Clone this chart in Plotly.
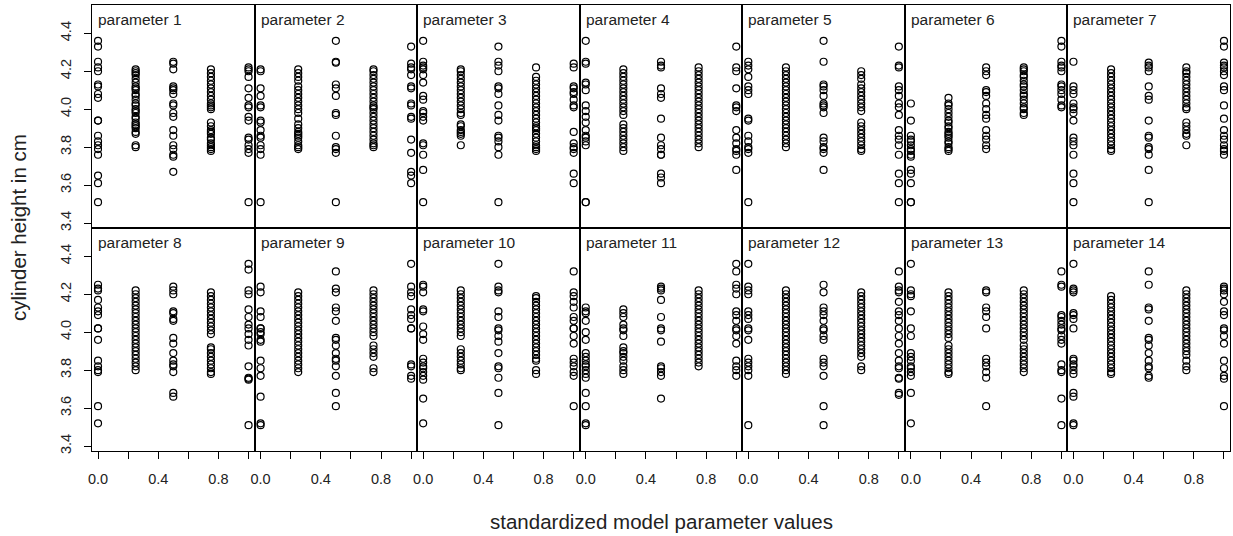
import plotly.graph_objects as go
from plotly.subplots import make_subplots

x_levels = [0.0, 0.25, 0.5, 0.75, 1.0]
panel_titles = [f"parameter {i}" for i in range(1, 15)]
y_ticks = [3.4, 3.6, 3.8, 4.0, 4.2, 4.4]
y_ticktext = ["3.4", "3.6", "3.8", "4.0", "4.2", "4.4"]
x_ticks = [0.0, 0.2, 0.4, 0.6, 0.8, 1.0]
x_ticktext = ["0.0", "", "0.4", "", "0.8", ""]

p1 = [[4.36, 4.33, 4.25, 4.22, 4.20, 4.13, 4.12, 4.08, 4.06, 3.94, 3.94, 3.86, 3.83, 3.81, 3.79, 3.76, 3.65, 3.61, 3.51],
      [4.21, 4.20, 4.19, 4.18, 4.16, 4.14, 4.12, 4.11, 4.10, 4.08, 4.07, 4.05, 4.03, 4.02, 4.00, 3.99, 3.98, 3.96, 3.95, 3.93, 3.92, 3.91, 3.90, 3.88, 3.87, 3.81, 3.80],
      [4.25, 4.24, 4.21, 4.12, 4.11, 4.10, 4.08, 4.03, 4.02, 3.98, 3.96, 3.89, 3.86, 3.81, 3.79, 3.76, 3.75, 3.67],
      [4.21, 4.19, 4.17, 4.15, 4.13, 4.11, 4.09, 4.07, 4.05, 4.03, 4.02, 4.01, 4.00, 3.93, 3.91, 3.89, 3.88, 3.87, 3.85, 3.84, 3.82, 3.81, 3.80, 3.79, 3.78],
      [4.22, 4.21, 4.20, 4.17, 4.11, 4.06, 4.02, 4.01, 3.96, 3.94, 3.85, 3.84, 3.81, 3.79, 3.77, 3.51]]
p2 = [[4.21, 4.20, 4.11, 4.07, 4.02, 4.01, 3.94, 3.93, 3.89, 3.86, 3.85, 3.81, 3.79, 3.76, 3.51],
      [4.21, 4.19, 4.17, 4.15, 4.12, 4.10, 4.08, 4.06, 4.04, 4.02, 4.00, 3.98, 3.95, 3.92, 3.90, 3.88, 3.87, 3.86, 3.85, 3.83, 3.81, 3.80, 3.79],
      [4.36, 4.25, 4.245, 4.13, 4.11, 4.07, 3.98, 3.97, 3.86, 3.80, 3.79, 3.77, 3.51],
      [4.21, 4.20, 4.18, 4.16, 4.14, 4.12, 4.10, 4.08, 4.06, 4.04, 4.02, 4.01, 4.00, 3.98, 3.96, 3.94, 3.92, 3.90, 3.88, 3.86, 3.84, 3.82, 3.81, 3.80],
      [4.33, 4.24, 4.22, 4.21, 4.18, 4.12, 4.11, 4.03, 4.02, 3.96, 3.95, 3.84, 3.77, 3.67, 3.65, 3.61]]
p3 = [[4.36, 4.25, 4.23, 4.22, 4.21, 4.18, 4.14, 4.07, 4.05, 3.99, 3.98, 3.96, 3.94, 3.82, 3.81, 3.76, 3.68, 3.51],
      [4.21, 4.20, 4.18, 4.16, 4.14, 4.12, 4.10, 4.08, 4.06, 4.04, 4.02, 4.00, 3.98, 3.97, 3.92, 3.91, 3.89, 3.88, 3.87, 3.86, 3.81],
      [4.33, 4.25, 4.23, 4.20, 4.12, 4.11, 4.08, 4.02, 3.97, 3.94, 3.86, 3.85, 3.83, 3.80, 3.76, 3.51],
      [4.22, 4.17, 4.15, 4.13, 4.11, 4.09, 4.07, 4.05, 4.03, 4.01, 3.99, 3.97, 3.95, 3.93, 3.91, 3.90, 3.89, 3.87, 3.85, 3.83, 3.81, 3.80, 3.79, 3.78],
      [4.24, 4.22, 4.12, 4.11, 4.09, 4.08, 4.05, 4.02, 4.01, 3.88, 3.82, 3.80, 3.79, 3.77, 3.66, 3.61]]
p4 = [[4.36, 4.25, 4.24, 4.14, 4.13, 4.10, 4.02, 3.99, 3.96, 3.93, 3.89, 3.86, 3.85, 3.83, 3.81, 3.51, 3.51],
      [4.21, 4.19, 4.17, 4.15, 4.13, 4.11, 4.09, 4.07, 4.05, 4.03, 4.01, 3.99, 3.97, 3.92, 3.90, 3.88, 3.86, 3.84, 3.82, 3.80, 3.78],
      [4.25, 4.23, 4.22, 4.11, 4.08, 4.06, 3.95, 3.85, 3.81, 3.79, 3.76, 3.76, 3.66, 3.64, 3.61],
      [4.22, 4.20, 4.18, 4.16, 4.14, 4.12, 4.10, 4.08, 4.06, 4.04, 4.02, 4.00, 3.98, 3.96, 3.94, 3.92, 3.90, 3.88, 3.86, 3.84, 3.82, 3.80],
      [4.33, 4.22, 4.20, 4.11, 4.02, 4.01, 3.99, 3.89, 3.85, 3.82, 3.79, 3.78, 3.76, 3.68]]
p5 = [[4.25, 4.23, 4.21, 4.17, 4.12, 4.10, 4.08, 3.95, 3.94, 3.86, 3.83, 3.80, 3.79, 3.77, 3.51],
      [4.22, 4.20, 4.18, 4.16, 4.14, 4.12, 4.10, 4.08, 4.06, 4.04, 4.02, 4.00, 3.98, 3.96, 3.94, 3.92, 3.90, 3.88, 3.86, 3.84, 3.82, 3.80],
      [4.36, 4.25, 4.13, 4.12, 4.10, 4.07, 4.03, 4.02, 4.01, 3.98, 3.85, 3.83, 3.80, 3.79, 3.77, 3.68],
      [4.20, 4.18, 4.16, 4.13, 4.11, 4.09, 4.07, 4.05, 4.03, 4.01, 3.99, 3.93, 3.91, 3.89, 3.87, 3.85, 3.83, 3.81, 3.79, 3.78],
      [4.33, 4.23, 4.22, 4.12, 4.10, 4.07, 4.03, 4.01, 3.97, 3.89, 3.86, 3.84, 3.81, 3.76, 3.66, 3.61, 3.51]]
p6 = [[4.03, 3.94, 3.86, 3.84, 3.83, 3.81, 3.79, 3.78, 3.76, 3.75, 3.68, 3.66, 3.61, 3.51, 3.51],
      [4.06, 4.03, 4.02, 4.00, 3.98, 3.96, 3.94, 3.93, 3.91, 3.90, 3.88, 3.87, 3.86, 3.85, 3.83, 3.82, 3.80, 3.79, 3.78],
      [4.22, 4.20, 4.18, 4.10, 4.09, 4.07, 4.03, 4.00, 3.97, 3.95, 3.89, 3.86, 3.84, 3.81, 3.79],
      [4.22, 4.21, 4.20, 4.18, 4.17, 4.15, 4.13, 4.12, 4.10, 4.08, 4.07, 4.05, 4.03, 4.01, 4.00, 3.98, 3.97],
      [4.36, 4.33, 4.25, 4.23, 4.22, 4.20, 4.13, 4.12, 4.10, 4.08, 4.05, 4.02, 4.01]]
p7 = [[4.25, 4.12, 4.10, 4.08, 4.03, 4.01, 4.00, 3.98, 3.94, 3.85, 3.83, 3.81, 3.76, 3.66, 3.61, 3.51],
      [4.21, 4.19, 4.17, 4.15, 4.13, 4.11, 4.09, 4.07, 4.05, 4.03, 4.01, 3.99, 3.97, 3.95, 3.93, 3.91, 3.89, 3.87, 3.85, 3.83, 3.81, 3.79, 3.78],
      [4.245, 4.23, 4.22, 4.20, 4.12, 4.07, 4.05, 3.94, 3.86, 3.85, 3.80, 3.79, 3.76, 3.68, 3.51],
      [4.22, 4.20, 4.19, 4.17, 4.15, 4.13, 4.11, 4.09, 4.07, 4.05, 4.03, 4.01, 4.00, 3.93, 3.91, 3.89, 3.87, 3.86, 3.81],
      [4.36, 4.33, 4.245, 4.23, 4.22, 4.20, 4.18, 4.12, 4.10, 4.02, 3.95, 3.89, 3.86, 3.84, 3.81, 3.79, 3.78, 3.76]]
p8 = [[4.25, 4.23, 4.22, 4.17, 4.13, 4.11, 4.09, 4.02, 4.02, 3.96, 3.85, 3.82, 3.80, 3.79, 3.61, 3.52],
      [4.22, 4.20, 4.18, 4.16, 4.14, 4.12, 4.10, 4.08, 4.06, 4.04, 4.02, 4.00, 3.98, 3.96, 3.94, 3.92, 3.90, 3.88, 3.86, 3.84, 3.82, 3.80],
      [4.24, 4.22, 4.20, 4.11, 4.10, 4.07, 4.06, 3.97, 3.94, 3.89, 3.85, 3.83, 3.82, 3.79, 3.68, 3.66],
      [4.21, 4.19, 4.17, 4.15, 4.13, 4.11, 4.09, 4.07, 4.05, 4.03, 4.01, 3.99, 3.92, 3.91, 3.89, 3.87, 3.85, 3.83, 3.81, 3.79, 3.78],
      [4.36, 4.33, 4.22, 4.20, 4.12, 4.08, 4.04, 4.02, 3.99, 3.96, 3.93, 3.82, 3.76, 3.755, 3.75, 3.51]]
p9 = [[4.24, 4.21, 4.11, 4.08, 4.02, 4.02, 4.00, 3.99, 3.96, 3.95, 3.85, 3.81, 3.77, 3.66, 3.52, 3.51],
      [4.21, 4.19, 4.17, 4.15, 4.13, 4.11, 4.09, 4.07, 4.05, 4.03, 4.01, 3.99, 3.97, 3.95, 3.93, 3.91, 3.89, 3.87, 3.85, 3.83, 3.81, 3.79],
      [4.32, 4.23, 4.21, 4.13, 4.11, 4.06, 3.97, 3.96, 3.93, 3.89, 3.86, 3.85, 3.82, 3.77, 3.68, 3.61],
      [4.22, 4.20, 4.18, 4.16, 4.14, 4.12, 4.10, 4.08, 4.06, 4.04, 4.02, 4.00, 3.98, 3.93, 3.91, 3.89, 3.87, 3.81, 3.79],
      [4.36, 4.24, 4.21, 4.19, 4.12, 4.09, 4.07, 4.02, 4.02, 3.83, 3.82, 3.77, 3.755]]
p10 = [[4.25, 4.24, 4.21, 4.12, 4.11, 4.03, 3.99, 3.96, 3.86, 3.84, 3.82, 3.81, 3.79, 3.77, 3.75, 3.65, 3.52],
       [4.22, 4.20, 4.18, 4.16, 4.14, 4.12, 4.10, 4.08, 4.06, 4.04, 4.02, 4.00, 3.98, 3.91, 3.89, 3.87, 3.85, 3.83, 3.81, 3.80],
       [4.36, 4.24, 4.22, 4.21, 4.11, 4.08, 4.02, 4.01, 3.98, 3.95, 3.89, 3.82, 3.81, 3.76, 3.68, 3.51],
       [4.19, 4.18, 4.16, 4.14, 4.12, 4.10, 4.08, 4.06, 4.04, 4.02, 4.00, 3.98, 3.96, 3.94, 3.92, 3.90, 3.88, 3.86, 3.85, 3.80, 3.78],
       [4.32, 4.21, 4.19, 4.16, 4.13, 4.08, 4.06, 4.02, 4.02, 3.98, 3.94, 3.86, 3.84, 3.82, 3.79, 3.77, 3.61]]
p11 = [[4.13, 4.11, 4.10, 4.06, 4.00, 3.96, 3.89, 3.87, 3.85, 3.83, 3.82, 3.80, 3.78, 3.76, 3.68, 3.61, 3.52, 3.51],
       [4.12, 4.10, 4.08, 4.04, 4.02, 4.01, 3.98, 3.92, 3.90, 3.89, 3.87, 3.85, 3.82, 3.80, 3.78],
       [4.24, 4.23, 4.22, 4.17, 4.08, 4.02, 4.01, 3.95, 3.82, 3.81, 3.79, 3.77, 3.65],
       [4.22, 4.20, 4.18, 4.16, 4.14, 4.12, 4.10, 4.08, 4.06, 4.04, 4.02, 4.00, 3.98, 3.96, 3.94, 3.92, 3.90, 3.88, 3.86, 3.84, 3.82],
       [4.36, 4.32, 4.25, 4.23, 4.20, 4.11, 4.09, 4.06, 4.02, 4.01, 3.98, 3.94, 3.85, 3.82, 3.80, 3.77]]
p12 = [[4.36, 4.24, 4.22, 4.20, 4.11, 4.09, 4.07, 4.02, 4.01, 3.96, 3.86, 3.84, 3.82, 3.80, 3.77, 3.51],
       [4.22, 4.20, 4.18, 4.16, 4.14, 4.12, 4.10, 4.08, 4.06, 4.04, 4.02, 4.00, 3.98, 3.96, 3.94, 3.92, 3.90, 3.88, 3.86, 3.84, 3.82, 3.80, 3.78],
       [4.25, 4.21, 4.13, 4.11, 4.09, 4.06, 4.02, 4.01, 3.98, 3.96, 3.86, 3.84, 3.82, 3.77, 3.61, 3.51],
       [4.21, 4.19, 4.17, 4.15, 4.13, 4.11, 4.09, 4.07, 4.05, 4.03, 4.01, 3.99, 3.97, 3.95, 3.93, 3.91, 3.89, 3.87, 3.82, 3.80],
       [4.32, 4.24, 4.22, 4.21, 4.16, 4.11, 4.09, 4.06, 4.02, 3.98, 3.94, 3.89, 3.85, 3.82, 3.81, 3.76, 3.755, 3.68, 3.67]]
p13 = [[4.36, 4.22, 4.20, 4.19, 4.11, 4.02, 3.98, 3.89, 3.87, 3.85, 3.82, 3.81, 3.79, 3.77, 3.68, 3.52],
       [4.21, 4.19, 4.17, 4.15, 4.13, 4.11, 4.09, 4.07, 4.05, 4.03, 4.01, 3.99, 3.97, 3.93, 3.91, 3.89, 3.87, 3.85, 3.83, 3.81, 3.79, 3.78],
       [4.22, 4.21, 4.13, 4.11, 4.08, 4.02, 3.86, 3.84, 3.82, 3.79, 3.76, 3.61],
       [4.22, 4.20, 4.18, 4.16, 4.14, 4.12, 4.10, 4.08, 4.06, 4.04, 4.02, 4.00, 3.98, 3.96, 3.93, 3.91, 3.89, 3.87, 3.85, 3.83, 3.81, 3.79],
       [4.32, 4.25, 4.24, 4.09, 4.08, 4.06, 4.04, 4.02, 4.01, 3.98, 3.96, 3.94, 3.83, 3.80, 3.79, 3.65, 3.51]]
p14 = [[4.36, 4.23, 4.22, 4.21, 4.10, 4.09, 4.07, 4.02, 3.86, 3.85, 3.83, 3.82, 3.80, 3.78, 3.68, 3.66, 3.52, 3.51],
       [4.19, 4.17, 4.15, 4.13, 4.11, 4.09, 4.07, 4.05, 4.03, 4.01, 3.99, 3.97, 3.95, 3.93, 3.91, 3.89, 3.87, 3.85, 3.83, 3.81, 3.79, 3.78],
       [4.32, 4.25, 4.13, 4.12, 4.06, 3.97, 3.96, 3.93, 3.89, 3.85, 3.82, 3.81, 3.77, 3.76],
       [4.22, 4.20, 4.18, 4.16, 4.14, 4.12, 4.10, 4.08, 4.06, 4.04, 4.02, 4.00, 3.98, 3.96, 3.94, 3.92, 3.90, 3.88, 3.85, 3.82, 3.80],
       [4.24, 4.23, 4.22, 4.20, 4.16, 4.11, 4.09, 4.02, 4.01, 3.98, 3.94, 3.85, 3.81, 3.77, 3.755, 3.61]]

panels = [p1, p2, p3, p4, p5, p6, p7, p8, p9, p10, p11, p12, p13, p14]

FONT = "Liberation Sans, Arial, Helvetica, sans-serif"
NROWS, NCOLS = 2, 7

fig = make_subplots(rows=NROWS, cols=NCOLS, horizontal_spacing=0, vertical_spacing=0)

for idx, panel in enumerate(panels):
    r = idx // NCOLS + 1
    c = idx % NCOLS + 1
    xs, ys = [], []
    for lvl, vals in zip(x_levels, panel):
        xs.extend([lvl] * len(vals))
        ys.extend(vals)
    fig.add_trace(go.Scatter(
        x=xs, y=ys, mode="markers", showlegend=False, hoverinfo="skip",
        marker=dict(symbol="circle-open", size=7, color="black",
                    line=dict(width=1.2, color="black")),
    ), row=r, col=c)

    xaxis_kw = dict(range=[-0.04, 1.04], showgrid=False, zeroline=False,
                    showline=True, mirror=True, linecolor="black", linewidth=1.2)
    if r == NROWS:
        xaxis_kw.update(ticks="outside", ticklen=7, tickwidth=1, tickcolor="black",
                        tickvals=x_ticks, ticktext=x_ticktext,
                        tickfont=dict(family=FONT, size=14.5, color="#222"),
                        ticklabelstandoff=7)
    else:
        xaxis_kw.update(showticklabels=False, ticks="")
    fig.update_xaxes(row=r, col=c, **xaxis_kw)

    yaxis_kw = dict(range=[3.374, 4.549], showgrid=False, zeroline=False,
                    showline=True, mirror=True, linecolor="black", linewidth=1.2)
    if c == 1:
        yaxis_kw.update(ticks="outside", ticklen=7, tickwidth=1, tickcolor="black",
                        tickvals=y_ticks, ticktext=y_ticktext, tickangle=-90,
                        tickfont=dict(family=FONT, size=14.5, color="#222"),
                        ticklabelstandoff=7)
    else:
        yaxis_kw.update(showticklabels=False, ticks="")
    fig.update_yaxes(row=r, col=c, **yaxis_kw)

    axn = "" if idx == 0 else str(idx + 1)
    fig.add_annotation(
        text=panel_titles[idx], xref=f"x{axn} domain", yref=f"y{axn} domain",
        x=0.025, y=0.935, xanchor="left", yanchor="middle", showarrow=False,
        font=dict(family=FONT, size=15.5, color="#222"),
    )

fig.add_annotation(
    text="cylinder height in cm", xref="paper", yref="paper",
    x=-0.065, y=0.5, xanchor="center", yanchor="middle", textangle=-90,
    showarrow=False, font=dict(family=FONT, size=20.5, color="#222"),
)
fig.add_annotation(
    text="standardized model parameter values", xref="paper", yref="paper",
    x=0.5, y=-0.159, xanchor="center", yanchor="middle",
    showarrow=False, font=dict(family=FONT, size=20.5, color="#222"),
)

fig.update_layout(
    width=1233, height=536,
    margin=dict(l=92, r=3, t=5, b=85, autoexpand=False),
    plot_bgcolor="white", paper_bgcolor="white",
    font=dict(family=FONT),
)

fig.write_html(
    "out.html",
    config={"displayModeBar": False},
    post_script="document.body.style.margin='0';document.body.style.padding='0';document.body.style.overflow='hidden';",
)
